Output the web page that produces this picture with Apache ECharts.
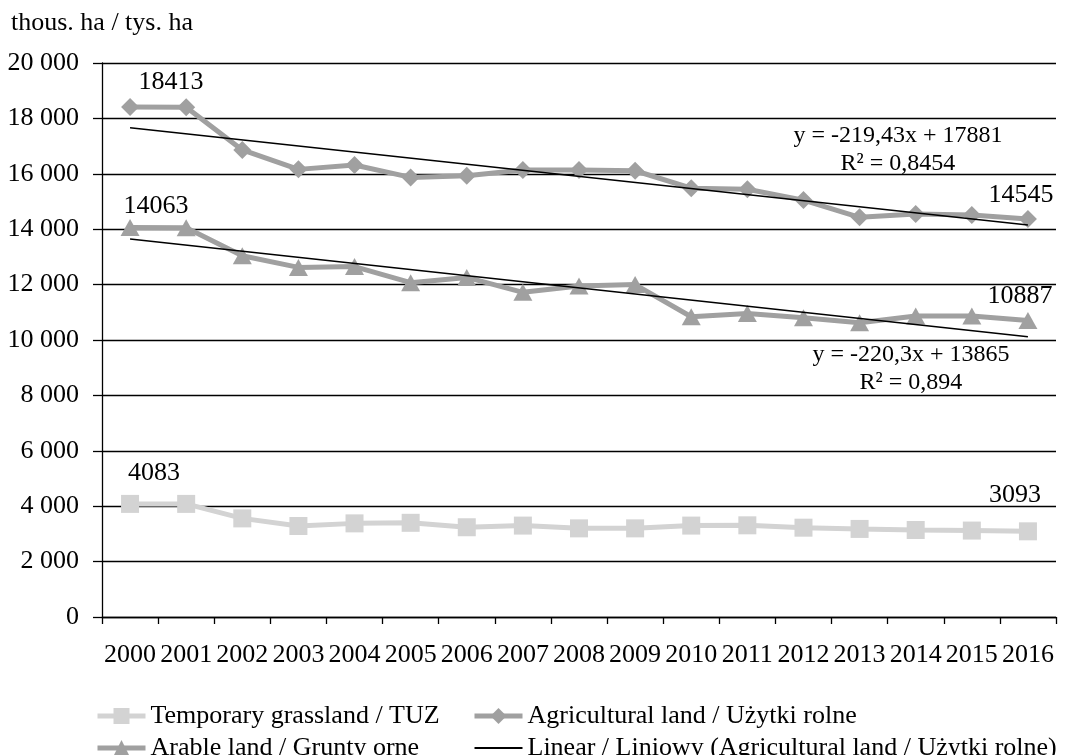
<!DOCTYPE html>
<html>
<head>
<meta charset="utf-8">
<script src="https://cdn.jsdelivr.net/npm/echarts@6/dist/echarts.min.js"></script>
<style>
html,body{margin:0;padding:0;background:#fff;}
#chart{width:1065px;height:755px;}
</style>
</head>
<body>
<div id="chart"></div>
<script>
// ---- data ----
var years = ['2000','2001','2002','2003','2004','2005','2006','2007','2008','2009','2010','2011','2012','2013','2014','2015','2016'];
var agricultural = [18413,18400,16860,16160,16320,15870,15930,16140,16140,16110,15480,15440,15050,14430,14550,14510,14370];
var arable = [14063,14050,13040,12620,12650,12070,12260,11720,11950,12000,10840,10960,10800,10620,10870,10870,10700];
var grassland = [4083,4083,3560,3285,3380,3400,3240,3300,3200,3200,3300,3310,3225,3180,3140,3120,3093];
var trendAgri = [['2000',17662],['2016',14151]];
var trendArable = [['2000',13645],['2016',10120]];
var agriLabels = ['18413','14545'];
var arableLabels = ['14063','10887'];
var grassLabels = ['4083','3093'];
var eqAgri = ['y = -219,43x + 17881','R² = 0,8454'];
var eqArable = ['y = -220,3x + 13865','R² = 0,894'];
var yTicks = {min:0, max:20000, interval:2000};
var names = {
  grass:'Temporary grassland / TUZ',
  agri:'Agricultural land / Użytki rolne',
  arable:'Arable land / Grunty orne',
  trendAgri:'Linear / Liniowy (Agricultural land / Użytki rolne)',
  trendArable:'Linear / Liniowy (Arable land / Grunty orne)'
};
var unitLabel = 'thous. ha / tys. ha';

// ---- styling ----
var FONT = '"Liberation Serif", "DejaVu Serif", serif';
var FS = 26;
var GRAY = '#a0a0a0';
var LIGHT = '#d3d3d3';

function withEndLabels(values, labels, firstOff, lastOff){
  return values.map(function(v, i){
    if (i === 0) return {value:v, label:{show:true, formatter:labels[0], offset:firstOff}};
    if (i === values.length-1) return {value:v, label:{show:true, formatter:labels[1], offset:lastOff}};
    return v;
  });
}
function eqData(pts, lines, off){
  return pts.map(function(p, i){
    if (i === pts.length-1) return {value:p, label:{show:true, formatter:lines.join('\n'), offset:off,
      fontSize:24, lineHeight:28, align:'center', verticalAlign:'middle'}};
    return {value:p};
  });
}

var labelBase = {show:false, position:'inside', fontFamily:FONT, fontSize:FS, color:'#000'};
var legendText = {fontFamily:FONT, fontSize:FS, color:'#000', lineHeight:25};

var option = {
  animation:false,
  backgroundColor:'#fff',
  textStyle:{fontFamily:FONT},
  title:{text:unitLabel, left:11, top:10, padding:0,
    textStyle:{fontFamily:FONT, fontSize:FS, fontWeight:'normal', color:'#000'}},
  grid:{left:102, right:9, top:63, bottom:138, containLabel:false},
  legend:[
    {data:[{name:names.grass, lineStyle:{width:5}}, {name:names.arable, lineStyle:{width:5}}],
     orient:'vertical', left:95, top:703, height:62, padding:0,
     itemWidth:48, itemHeight:20, itemGap:6, textStyle:legendText},
    {data:[{name:names.agri, lineStyle:{width:5}},
           {name:names.trendAgri, icon:'path://M0,0H48V2H0Z', itemStyle:{color:'#000'}}],
     orient:'vertical', left:472, top:703, height:62, padding:0, symbolKeepAspect:true,
     itemWidth:48, itemHeight:20, itemGap:6, textStyle:legendText}
  ],
  xAxis:{type:'category', data:years, boundaryGap:true,
    axisLine:{lineStyle:{color:'#000', width:1.3}},
    axisTick:{show:true, alignWithLabel:false, interval:0, length:7, lineStyle:{color:'#000', width:1.3}},
    axisLabel:{interval:0, margin:25, fontFamily:FONT, fontSize:FS, color:'#000'},
    splitLine:{show:false}},
  yAxis:{type:'value', min:yTicks.min, max:yTicks.max, interval:yTicks.interval,
    axisLine:{show:true, lineStyle:{color:'#000', width:1.3}},
    axisTick:{show:true, length:9, lineStyle:{color:'#000', width:1.3}},
    axisLabel:{margin:23, fontFamily:FONT, fontSize:FS, color:'#000',
      formatter:function(v){return String(v).replace(/\B(?=(\d{3})+(?!\d))/g,' ');}},
    splitLine:{show:true, lineStyle:{color:'#000', width:1.4}}},
  series:[
    {name:names.grass, type:'line', data:withEndLabels(grassland, grassLabels, [24,-31], [-13,-36]),
     symbol:'rect', symbolSize:18, lineStyle:{color:LIGHT, width:5}, itemStyle:{color:LIGHT},
     label:labelBase, z:2},
    {name:names.agri, type:'line', data:withEndLabels(agricultural, agriLabels, [41,-25], [-7,-24]),
     symbol:'diamond', symbolSize:18, lineStyle:{color:GRAY, width:5}, itemStyle:{color:GRAY},
     label:labelBase, z:2},
    {name:names.arable, type:'line', data:withEndLabels(arable, arableLabels, [26,-21], [-8,-24]),
     symbol:'triangle', symbolSize:[19,17], lineStyle:{color:GRAY, width:5}, itemStyle:{color:GRAY},
     label:labelBase, z:2},
    {name:names.trendAgri, type:'line', data:eqData(trendAgri, eqAgri, [-130,-75]),
     symbol:'circle', symbolSize:0, showSymbol:true,
     lineStyle:{color:'#000', width:1.6}, itemStyle:{color:'#000'},
     label:labelBase, z:3},
    {name:names.trendArable, type:'line', data:eqData(trendArable, eqArable, [-117,32]),
     symbol:'circle', symbolSize:0, showSymbol:true,
     lineStyle:{color:'#000', width:1.6}, itemStyle:{color:'#000'},
     label:labelBase, z:3}
  ]
};
var chart = echarts.init(document.getElementById('chart'), null, {renderer:'canvas'});
chart.setOption(option);
</script>
</body>
</html>
